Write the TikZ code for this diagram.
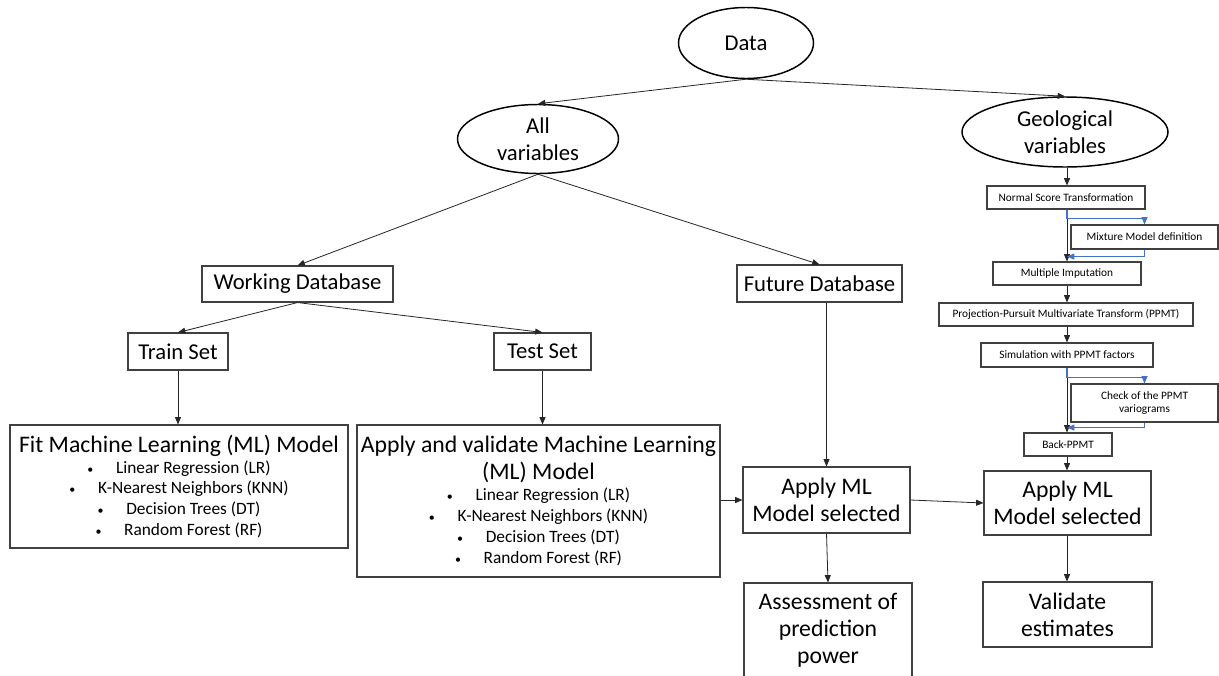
\documentclass[tikz,border=0pt]{standalone}
\usepackage{fontspec}
\setmainfont{Carlito}
\usetikzlibrary{arrows.meta,shapes.geometric}
\definecolor{linkblue}{HTML}{4472C4}
\definecolor{edgegray}{HTML}{404040}
\begin{document}
\begin{tikzpicture}[x=0.75pt,y=-0.75pt,
  big/.style={font=\fontsize{17}{20.4}\selectfont},
  bigger/.style={font=\fontsize{17.8}{20.4}\selectfont},
  small/.style={font=\fontsize{8.5}{10.2}\selectfont},
  sz/.style 2 args={minimum width=#1*0.75pt,minimum height=#2*0.75pt},
  oval/.style={ellipse,draw=black,line width=1.1pt,inner sep=0pt},
  box/.style={rectangle,draw=edgegray,line width=0.8pt,inner sep=0pt,align=center},
  arr/.style={draw=black!85,line width=0.6pt,-{Triangle[length=5.5pt,width=4.5pt]}},
  loopline/.style={draw=linkblue,line width=0.8pt,-{Triangle[length=5.5pt,width=4.5pt]}},
]
\useasboundingbox (0,0) rectangle (1219,675);
\fill[white] (0,0) rectangle (1219,675);

% one bulleted line of a model list
\newcommand{\lst}[1]{\\[-4.7pt]{\fontsize{13}{15.6}\selectfont{\fontsize{9}{10}\selectfont\textbullet}\hspace{17pt}#1}}

% ---- ellipses ----
\node[oval,sz={135}{71}] (data) at (746,43) {};
\node[big] (data-t) at (data) {Data};
\node[oval,sz={161}{69}] (allv) at (538,139) {};
\node[big,align=center] (allv-t) at (allv) {All\\variables};
\node[oval,sz={206}{70}] (geo) at (1065,132) {};
\node[big,align=center] (geo-t) at (geo) {Geological\\variables};

% ---- machine learning branch ----
\node[box,big,sz={191}{36}] (wdb) at (297.5,284) {Working Database};
\node[box,big,sz={165}{37}] (fut) at (819.5,283.5) {Future Database};
\node[box,big,sz={100}{37}] (train) at (178,351.5) {Train Set};
\node[box,big,sz={97}{37}] (test) at (542.5,351.5) {Test Set};

\node[box,bigger,sz={338}{123}] (fitml) at (179,486.5) {Fit Machine Learning (ML) Model
  \lst{Linear Regression (LR)}
  \lst{K-Nearest Neighbors (KNN)}
  \lst{Decision Trees (DT)}
  \lst{Random Forest (RF)}};
\node[box,bigger,sz={363}{152}] (valml) at (538.5,501) {Apply and validate Machine Learning\\(ML) Model
  \lst{Linear Regression (LR)}
  \lst{K-Nearest Neighbors (KNN)}
  \lst{Decision Trees (DT)}
  \lst{Random Forest (RF)}};

\node[box,bigger,sz={167}{66}] (applyA) at (826.5,500) {Apply ML\\Model selected};
\node[box,bigger,sz={168}{95}] (assess) at (828,630.5) {Assessment of\\prediction\\power};

% ---- geostatistical chain ----
\coordinate (spine) at (1067,0);
\node[box,small,sz={158}{23}] (nst) at (1066,197.5) {Normal Score Transformation};
\node[box,small,sz={147}{24}] (mix) at (1144.5,237) {Mixture Model definition};
\node[box,small,sz={148}{23}] (mi) at (1067,273.5) {Multiple Imputation};
\node[box,small,sz={254}{23}] (ppmt) at (1066,314.5) {Projection-Pursuit Multivariate Transform (PPMT)};
\node[box,small,sz={172}{24}] (sim) at (1067,355) {Simulation with PPMT factors};
\node[box,small,sz={147}{38}] (check) at (1144.5,403) {Check of the PPMT\\variograms};
\node[box,small,sz={88}{23}] (back) at (1068,444.5) {Back-PPMT};

\node[box,bigger,sz={167}{64}] (applyB) at (1067.5,503) {Apply ML\\Model selected};
\node[box,bigger,sz={169}{65}] (valid) at (1067.5,614.5) {Validate\\estimates};

% ---- connectors ----
\draw[arr] (data.south) -- (allv.north);
\draw[arr] (data.south) -- (geo.north);
\draw[arr] (allv.south) -- (wdb.north);
\draw[arr] (allv.south) -- (fut.north);
\draw[arr] (wdb.south) -- (train.north);
\draw[arr] (wdb.south) -- (test.north);
\draw[arr] (train.south) -- (train.south |- fitml.north);
\draw[arr] (test.south) -- (test.south |- valml.north);
\draw[arr] (fut.south -| applyA.north) -- (applyA.north);
\draw[arr] (valml.east |- applyA.west) -- (applyA.west);
\draw[arr] (applyA.east) -- (applyB.west);
\draw[arr] (applyA.south) -- (assess.north);

\draw[arr] (geo.south -| spine) -- (nst.north -| spine);
\draw[arr] (nst.south -| spine) -- (mi.north -| spine);
\draw[arr] (mi.south -| spine) -- (ppmt.north -| spine);
\draw[arr] (ppmt.south -| spine) -- (sim.north -| spine);
\draw[arr] (sim.south -| spine) -- (back.north -| spine);
\draw[arr] (back.south -| spine) -- (applyB.north -| spine);
\draw[arr] (applyB.south -| spine) -- (valid.north -| spine);

% feedback loops through the side checks
\draw[loopline] (nst.south -| spine) -- ++(0,9) -| (mix.north);
\draw[loopline] (mix.south) -- ++(0,7) coordinate (mixret) -- (mixret -| spine);
\draw[loopline] (sim.south -| spine) -- ++(0,10) -| (check.north);
\draw[loopline] (check.south) -- ++(0,5) coordinate (chkret) -- (chkret -| spine);
\end{tikzpicture}
\end{document}
